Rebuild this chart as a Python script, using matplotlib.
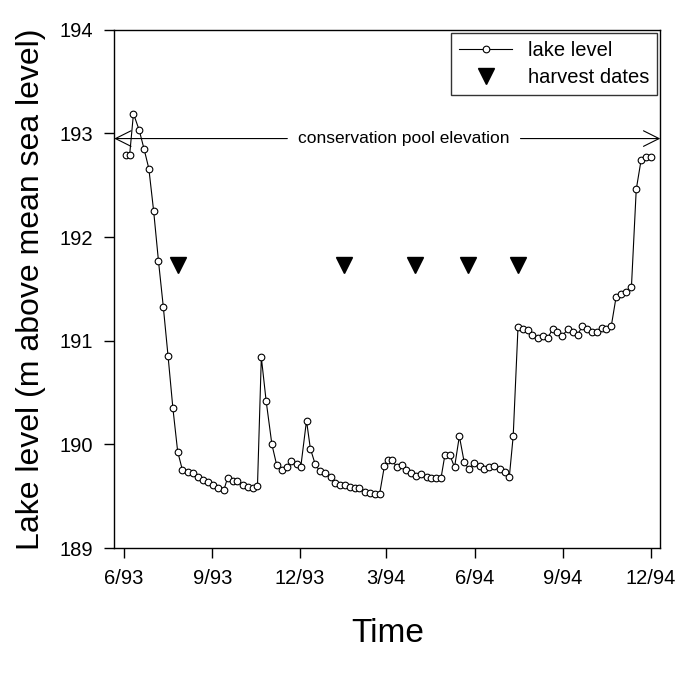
import matplotlib
matplotlib.use('Agg')
import matplotlib.pyplot as plt
import numpy as np

plt.rcParams['font.family'] = ['Liberation Sans', 'DejaVu Sans']

# ===========================================================
# Data (days counted from 1 June 1993)
# ===========================================================

start = np.datetime64('1993-06-01')

days = [2, 6, 10, 16, 21, 26, 31, 36, 41, 46, 51, 56,
        61, 67, 72, 77, 82, 88, 93, 98, 104, 108, 114, 118, 124, 129, 134, 139,
        143, 148, 154, 159, 164, 170, 174, 180, 184,
        190, 194, 199, 204, 209, 215, 220, 225, 230, 235, 240, 245, 251, 256, 261, 266,
        271, 275, 279, 284, 289, 294, 299, 304, 309, 315, 320, 325, 330, 334, 339, 344, 349,
        354, 359, 364, 370, 375, 380, 385, 391, 396, 401, 405,
        410, 415, 420, 425, 431, 436, 441, 446, 451, 456, 462, 467, 472, 477, 482, 487,
        492, 497, 502, 507,
        512, 517, 522, 528, 533, 538, 543, 548]

level = [192.79, 192.79, 193.19, 193.03, 192.85, 192.66, 192.25, 191.77, 191.33, 190.85, 190.35, 189.93,
         189.75, 189.73, 189.72, 189.69, 189.66, 189.64, 189.61, 189.58, 189.56, 189.68, 189.65, 189.65,
         189.61, 189.59, 189.58, 189.60,
         190.84, 190.42, 190.00, 189.80, 189.75, 189.78, 189.84, 189.81, 189.78,
         190.23, 189.96, 189.81, 189.74, 189.72, 189.69, 189.63, 189.61, 189.61, 189.59, 189.58, 189.58,
         189.54, 189.53, 189.52, 189.52,
         189.79, 189.85, 189.85, 189.78, 189.80, 189.75, 189.72, 189.70, 189.71, 189.69, 189.68, 189.68,
         189.68, 189.90, 189.90, 189.78, 190.08,
         189.83, 189.76, 189.82, 189.79, 189.76, 189.78, 189.79, 189.76, 189.73, 189.69, 190.08,
         191.13, 191.11, 191.10, 191.06, 191.03, 191.05, 191.03, 191.11, 191.08, 191.05, 191.11, 191.08,
         191.06, 191.14, 191.11, 191.08, 191.08, 191.12, 191.11, 191.14,
         191.42, 191.45, 191.47, 191.52, 192.46, 192.74, 192.77, 192.77]

harvest_dates = ['1993-07-27', '1994-01-16', '1994-03-31', '1994-05-25', '1994-07-16']
harvest_level = 191.73

pool_elevation = 192.95

tick_dates = ['1993-06-01', '1993-09-01', '1993-12-01', '1994-03-01',
              '1994-06-01', '1994-09-01', '1994-12-01']
tick_labels = ['6/93', '9/93', '12/93', '3/94', '6/94', '9/94', '12/94']

dates = start + np.array(days, dtype='timedelta64[D]')
harvest = np.array(harvest_dates, dtype='datetime64[D]')

# ===========================================================
# Figure
# ===========================================================

fig = plt.figure(figsize=(6.8, 6.75), dpi=100)
ax = fig.add_axes([0.168, 0.188, 0.803, 0.768])

ax.plot(dates, level, color='black', lw=0.8, marker='o', markersize=4.8,
        markerfacecolor='white', markeredgecolor='black', markeredgewidth=0.8,
        label='lake level')
ax.plot(harvest, [harvest_level] * len(harvest), linestyle='none', marker='v',
        markersize=11, color='black', label='harvest dates')

ax.set_xlim(np.datetime64('1993-05-22'), np.datetime64('1994-12-11'))
ax.set_ylim(189, 194)
ax.set_yticks([189, 190, 191, 192, 193, 194])
ax.set_xticks(np.array(tick_dates, dtype='datetime64[D]'))
ax.set_xticklabels(tick_labels)

ax.tick_params(direction='out', length=7, width=1, labelsize=14.5, pad=8,
               top=False, right=False)
for s in ax.spines.values():
    s.set_linewidth(1)

ax.set_xlabel('Time', fontsize=24, labelpad=22)
ax.set_ylabel('Lake level (m above mean sea level)', fontsize=23, labelpad=10)

# conservation pool arrows
ax.text(0.53, pool_elevation, 'conservation pool elevation', fontsize=12.5,
        ha='center', va='center', transform=ax.get_yaxis_transform())
ax.annotate('', xy=(0.0, pool_elevation), xytext=(0.317, pool_elevation),
            xycoords=('axes fraction', 'data'), textcoords=('axes fraction', 'data'),
            arrowprops=dict(arrowstyle='->', lw=0.8, color='black',
                            mutation_scale=28, shrinkA=0, shrinkB=0))
ax.annotate('', xy=(1.0, pool_elevation), xytext=(0.744, pool_elevation),
            xycoords=('axes fraction', 'data'), textcoords=('axes fraction', 'data'),
            arrowprops=dict(arrowstyle='->', lw=0.8, color='black',
                            mutation_scale=28, shrinkA=0, shrinkB=0))

leg = ax.legend(loc='upper right', fontsize=14.5, frameon=True, fancybox=False,
                edgecolor='black', borderaxespad=0.15, handlelength=2.6,
                labelspacing=0.4)
leg.get_frame().set_linewidth(1)

fig.savefig('out.png', dpi=100)
